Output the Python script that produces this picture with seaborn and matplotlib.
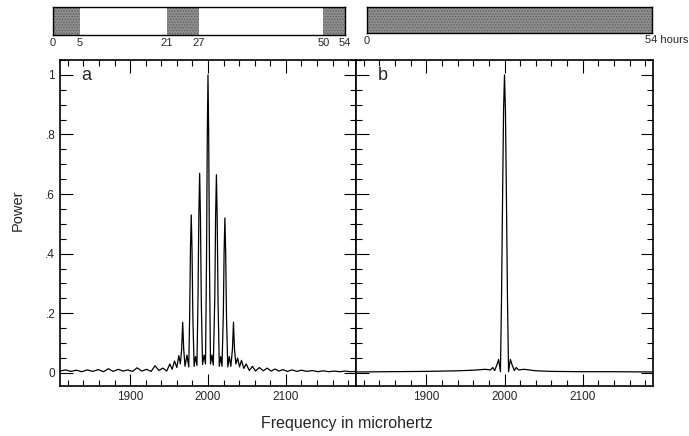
import numpy as np
import pandas as pd
import matplotlib
matplotlib.use("Agg")
import matplotlib.pyplot as plt
import seaborn as sns
from matplotlib.ticker import FixedLocator, FixedFormatter, MultipleLocator

# ---------------- data ----------------
# observing windows (hours)
obs_a_start = [0, 21, 50]
obs_a_end = [5, 27, 54]
obs_a_labels = [0, 5, 21, 27, 50, 54]
obs_b_start = [0]
obs_b_end = [54]

# panel a: spectral window, three blocks
freq_a = [1810, 1817, 1824, 1831, 1838, 1845, 1852, 1859, 1866, 1872, 1878, 1885,
          1891, 1897, 1903, 1909, 1915, 1921, 1927, 1932, 1937, 1942, 1947, 1951,
          1954, 1957, 1960, 1962.5, 1964.5,
          1966.2, 1967.5, 1968.8, 1970.5, 1973, 1975.3,
          1976.5, 1977.5, 1978.5, 1979.5, 1980.6,
          1982.2, 1984, 1985.8,
          1987.2, 1988.3, 1989.3, 1990.3, 1991.4,
          1993, 1995, 1996.8,
          1998.1, 1999.1, 2000, 2000.9, 2001.9,
          2003.2, 2005, 2006.8,
          2008.7, 2009.8, 2010.8, 2011.8, 2012.9,
          2014.5, 2016.3, 2018,
          2019.7, 2020.7, 2021.7, 2022.7, 2023.8,
          2025.4, 2027.3, 2029.3,
          2031.4, 2032.7, 2034, 2035.8, 2038, 2040.5, 2043, 2046, 2049, 2053,
          2057, 2061, 2066,
          2071, 2076, 2081, 2086, 2091, 2096, 2102, 2108, 2114, 2120, 2127, 2134,
          2141, 2148, 2155, 2162, 2169, 2176, 2183, 2190]
power_a = [0.006, 0.010, 0.005, 0.009, 0.004, 0.010, 0.005, 0.011, 0.004, 0.014, 0.005, 0.012,
           0.006, 0.010, 0.005, 0.017, 0.006, 0.012, 0.005, 0.024, 0.008, 0.016, 0.006, 0.030,
           0.012, 0.040, 0.018, 0.058, 0.030,
           0.080, 0.170, 0.080, 0.022, 0.060, 0.020,
           0.200, 0.420, 0.530, 0.410, 0.180,
           0.022, 0.055, 0.025,
           0.260, 0.540, 0.670, 0.520, 0.240,
           0.028, 0.060, 0.030,
           0.380, 0.800, 1.000, 0.790, 0.370,
           0.030, 0.060, 0.026,
           0.250, 0.530, 0.665, 0.520, 0.240,
           0.022, 0.055, 0.022,
           0.200, 0.410, 0.520, 0.400, 0.180,
           0.020, 0.055, 0.022,
           0.080, 0.170, 0.080, 0.030, 0.050, 0.020, 0.042, 0.015, 0.030, 0.008,
           0.022, 0.006, 0.018,
           0.007, 0.016, 0.006, 0.013, 0.006, 0.011, 0.005, 0.010, 0.005, 0.009, 0.005, 0.008,
           0.004, 0.007, 0.004, 0.006, 0.004, 0.006, 0.004, 0.005]

# panel b: spectral window, continuous 54 h
freq_b = [1810, 1850, 1900, 1940, 1960, 1975, 1982, 1985, 1987.5, 1990, 1992.5, 1994.8,
          1996.2, 1997.5, 1998.8, 2000, 2001.2, 2002.5, 2003.8, 2005.2, 2007.5, 2010,
          2012.5, 2015, 2018, 2025, 2040, 2060, 2100, 2140, 2190]
power_b = [0.003, 0.004, 0.005, 0.007, 0.009, 0.012, 0.010, 0.018, 0.008, 0.025, 0.045, 0.004,
           0.25, 0.58, 0.88, 1.0, 0.88, 0.58, 0.25, 0.004, 0.045, 0.025,
           0.008, 0.018, 0.010, 0.012, 0.007, 0.005, 0.004, 0.004, 0.003]

xtick_vals = [1900, 2000, 2100]
xtick_labels = ["1900", "2000", "2100"]
ytick_vals = [0, 0.2, 0.4, 0.6, 0.8, 1.0]
ytick_labels = ["0", ".2", ".4", ".6", ".8", "1"]

# ---------------- figure ----------------
sns.set_style("ticks")
plt.rcParams["font.family"] = ["Liberation Sans", "DejaVu Sans"]
plt.rcParams["hatch.linewidth"] = 0.6

W, H = 689, 436
fig = plt.figure(figsize=(W / 100, H / 100), dpi=100)


def rect(x0, y0, x1, y1):
    return [x0 / W, 1 - y1 / H, (x1 - x0) / W, (y1 - y0) / H]


ax_a = fig.add_axes(rect(60, 60, 356, 386))
ax_b = fig.add_axes(rect(356, 60, 653, 386))
bar_a = fig.add_axes(rect(53, 7, 345, 35))
bar_b = fig.add_axes(rect(367, 7, 652, 33))

df_a = pd.DataFrame({"freq": freq_a, "power": power_a})
df_b = pd.DataFrame({"freq": freq_b, "power": power_b})

for ax, df, letter, lab_left in [(ax_a, df_a, "a", True), (ax_b, df_b, "b", False)]:
    sns.lineplot(data=df, x="freq", y="power", ax=ax, color="black", lw=0.9,
                 estimator=None)
    ax.set_xlim(1810, 2190)
    ax.set_ylim(-0.044, 1.05)
    ax.xaxis.set_major_locator(FixedLocator(xtick_vals))
    ax.xaxis.set_major_formatter(FixedFormatter(xtick_labels))
    ax.xaxis.set_minor_locator(MultipleLocator(20))
    ax.yaxis.set_major_locator(FixedLocator(ytick_vals))
    ax.yaxis.set_major_formatter(FixedFormatter(ytick_labels))
    ax.yaxis.set_minor_locator(MultipleLocator(0.05))
    ax.tick_params(which="both", direction="in", top=True, right=True,
                   bottom=True, left=True, color="black", width=0.8,
                   labelsize=8.5, labelleft=lab_left, pad=3.5)
    ax.tick_params(which="major", length=9)
    ax.tick_params(which="minor", length=4.5)
    for s in ax.spines.values():
        s.set_linewidth(1.2)
        s.set_color("black")
    ax.set_xlabel("")
    ax.set_ylabel("")
    ax.text(0.072, 0.953, letter, transform=ax.transAxes, fontsize=13,
            va="center", ha="left")

for bax, starts, ends in [(bar_a, obs_a_start, obs_a_end), (bar_b, obs_b_start, obs_b_end)]:
    bax.set_xlim(0, 54)
    bax.set_ylim(0, 1)
    bax.barh([0.5] * len(starts), [e - s for s, e in zip(starts, ends)],
             left=starts, height=1, color="#8e8e8e", edgecolor="#5c5c5c",
             hatch="......", linewidth=0)
    bax.set_yticks([])
    for s in bax.spines.values():
        s.set_linewidth(1.0)
        s.set_color("black")
    bax.tick_params(axis="x", length=0, labelsize=8, pad=2)

bar_a.set_xticks(obs_a_labels)
bar_a.set_xticklabels([str(v) for v in obs_a_labels])
bar_b.set_xticks([0])
bar_b.set_xticklabels(["0"])
bar_b.annotate("54 hours", xy=(54, 0), xycoords=("data", "axes fraction"),
               xytext=(-7, -2), textcoords="offset pixels", ha="left", va="top",
               fontsize=8, annotation_clip=False)

fig.text(18 / W, 1 - 210 / H, "Power", rotation=90, ha="center", va="center",
         fontsize=10.5)
fig.text(347 / W, 1 - 423 / H, "Frequency in microhertz", ha="center",
         va="center", fontsize=11.5)

fig.savefig("out.png", dpi=100)
